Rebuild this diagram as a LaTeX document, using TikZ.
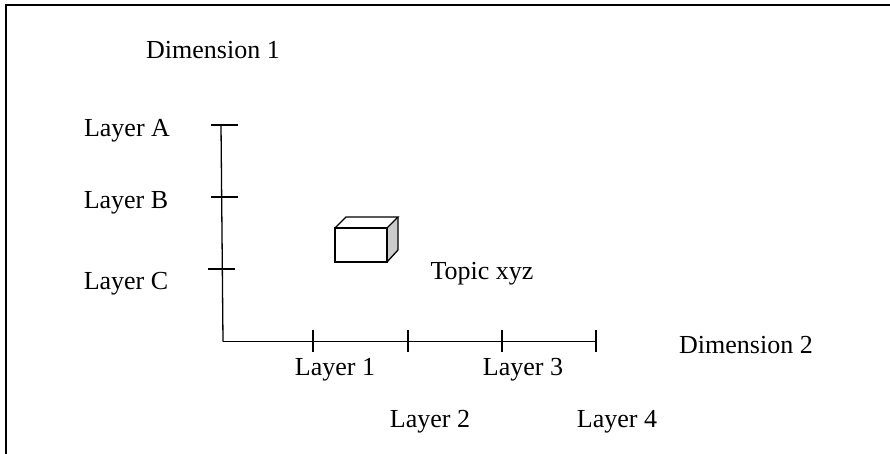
\documentclass[tikz,border=0pt]{standalone}
\usepackage{fontspec}
\setmainfont{Liberation Serif}
\begin{document}
\begin{tikzpicture}[x=1pt,y=-1pt,
  lbl/.style={anchor=base,inner sep=0pt,font=\fontsize{26}{31}\selectfont},
  axis/.style={line width=1.3pt,black},
  frame/.style={line width=2.2pt,black},
  cube/.style={line width=1.3pt,black,line join=miter}]
\useasboundingbox (0,0) rectangle (890,454);

% outer frame (top and left edges)
\coordinate (fTL) at (6,5);
\coordinate (fTR) at (890,5);
\coordinate (fBL) at (6,454);
\draw[frame] (fTR) -- (fTL) -- (fBL);

% vertical axis (Dimension 1)
\coordinate (vTop) at (221,125);
\coordinate (vO) at (223,341.5);
\coordinate (tA1) at (211,125);  \coordinate (tA2) at (238,125);
\coordinate (tB1) at (211,197);  \coordinate (tB2) at (238,197);
\coordinate (tC1) at (208,269);  \coordinate (tC2) at (235,269);
\draw[axis] (vTop) -- (vO);
\draw[axis] (tA1) -- (tA2);
\draw[axis] (tB1) -- (tB2);
\draw[axis] (tC1) -- (tC2);

% horizontal axis (Dimension 2)
\coordinate (hEnd) at (596,341.5);
\draw[axis] (vO) -- (hEnd);
\foreach \name/\x in {t1/313,t2/408,t3/502,t4/596}{
  \coordinate (\name a) at (\x,330);
  \coordinate (\name b) at (\x,352);
  \draw[axis] (\name a) -- (\name b);
}

% small box
\coordinate (c1) at (335,228); \coordinate (c2) at (387,228);
\coordinate (c3) at (387,262); \coordinate (c4) at (335,262);
\coordinate (c5) at (346,217); \coordinate (c6) at (398,217);
\coordinate (c7) at (398,250);
\fill[gray!40] (c2) -- (c6) -- (c7) -- (c3) -- cycle;
\draw[cube] (c1) -- (c2) -- (c3) -- (c4) -- cycle;
\draw[cube] (c1) -- (c5) -- (c6) -- (c2);
\draw[cube] (c6) -- (c7) -- (c3);

% labels
\node[lbl] (dim1) at (213,59) {Dimension 1};
\node[lbl] (layA) at (127,137) {Layer A};
\node[lbl] (layB) at (126,209) {Layer B};
\node[lbl] (layC) at (126,289) {Layer C};
\node[lbl] (topic) at (482,279) {Topic xyz};
\node[lbl] (dim2) at (746,353) {Dimension 2};
\node[lbl] (lay1) at (335,375) {Layer 1};
\node[lbl] (lay3) at (523,375) {Layer 3};
\node[lbl] (lay2) at (430,427) {Layer 2};
\node[lbl] (lay4) at (617,427) {Layer 4};
\end{tikzpicture}
\end{document}
